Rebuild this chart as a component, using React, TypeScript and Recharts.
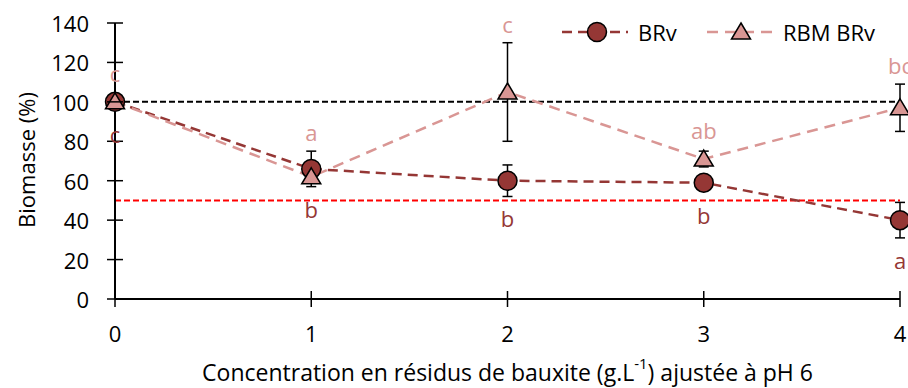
import React from 'react';
import { LineChart, Line, XAxis, YAxis, ReferenceLine, ErrorBar, LabelList, Legend, Label } from 'recharts';

const concentrations = [0, 1, 2, 3, 4];
const brvValues = [100, 66, 60, 59, 40];
const brvErrors = [0, 9, 8, 1, 9];
const rbmValues = [100, 62, 105, 71, 97];
const rbmErrors = [0, 3, 25, 4, 12];
const brvLetters = ['c', 'b', 'b', 'b', 'a'];
const rbmLetters = ['c', 'a', 'c', 'ab', 'bc'];
const yTicks = [0, 20, 40, 60, 80, 100, 120, 140];
const xTicks = [0, 1, 2, 3, 4];

const BRV_COLOR = '#953735';
const RBM_COLOR = '#D99694';
const FONT = '"Open Sans", sans-serif';

const W = 908;
const H = 388;
const MARGIN = { top: 23, right: 8, left: 0, bottom: 0 };
const Y_AXIS_W = 115;
const X_AXIS_H = 89;
const Y_MAX = 140;
const plotH = H - MARGIN.top - MARGIN.bottom - X_AXIS_H;
const plotW = W - MARGIN.left - MARGIN.right - Y_AXIS_W;
const pxPerUnit = plotH / Y_MAX;
const yPix = (v: number) => MARGIN.top + (Y_MAX - v) * pxPerUnit;

const data = concentrations.map((c, i) => ({
  conc: c,
  brv: brvValues[i],
  brvErr: brvErrors[i],
  rbm: rbmValues[i],
  rbmErr: rbmErrors[i],
}));

// letters sit just outside whatever is drawn at that concentration
const lowestEdge = (i: number) =>
  Math.max(
    yPix(brvValues[i] - brvErrors[i]),
    yPix(rbmValues[i] - rbmErrors[i]),
    yPix(brvValues[i]) + 10,
    yPix(rbmValues[i]) + 8
  );
const highestEdge = (i: number) =>
  Math.min(
    yPix(brvValues[i] + brvErrors[i]),
    yPix(rbmValues[i] + rbmErrors[i]),
    yPix(brvValues[i]) - 10,
    yPix(rbmValues[i]) - 10
  );

const renderBrvLetter = (props: any) => {
  const { x, index } = props;
  return (
    <text key={`bl-${index}`} x={x} y={lowestEdge(index) + 22} textAnchor="middle" dominantBaseline="central"
      fill={BRV_COLOR} fontSize={22} fontFamily={FONT}>
      {brvLetters[index]}
    </text>
  );
};

const renderRbmLetter = (props: any) => {
  const { x, index } = props;
  return (
    <text key={`rl-${index}`} x={x} y={highestEdge(index) - 19} textAnchor="middle" dominantBaseline="central"
      fill={RBM_COLOR} fontSize={22} fontFamily={FONT}>
      {rbmLetters[index]}
    </text>
  );
};

const trianglePoints = (cx: number, cy: number) =>
  `${cx},${cy - 9} ${cx + 9.5},${cy + 7} ${cx - 9.5},${cy + 7}`;

const renderCircle = (props: any) => (
  <circle key={`c-${props.index}`} cx={props.cx} cy={props.cy} r={9.5} fill={BRV_COLOR} stroke="#000" strokeWidth={1.5} />
);

const renderTriangle = (props: any) => (
  <polygon key={`t-${props.index}`} points={trianglePoints(props.cx, props.cy)} fill={RBM_COLOR} stroke="#000" strokeWidth={1.5} />
);

const YTick = (props: any) => {
  const { x, y, payload } = props;
  return (
    <g>
      <line x1={x - 8} x2={x + 8} y1={y} y2={y} stroke="#000" strokeWidth={1.5} />
      <text x={x - 26} y={y} textAnchor="end" dominantBaseline="central" fontSize={22} fontFamily={FONT} fill="#000">
        {payload.value}
      </text>
    </g>
  );
};

const XTick = (props: any) => {
  const { x, y, payload } = props;
  return (
    <g>
      <line x1={x} x2={x} y1={y - 8} y2={y + 8} stroke="#000" strokeWidth={1.5} />
      <text x={x} y={y + 34} textAnchor="middle" dominantBaseline="central" fontSize={22} fontFamily={FONT} fill="#000">
        {payload.value}
      </text>
    </g>
  );
};

const LEG_LEFT = 550;
const LEG_TOP = 12;

const renderLegend = () => {
  const cy = 20;
  const item1 = 562 - LEG_LEFT;
  const item2 = 707 - LEG_LEFT;
  return (
    <svg width={358} height={40} style={{ overflow: 'visible' }}>
      <line x1={item1} x2={item1 + 66} y1={cy} y2={cy} stroke={BRV_COLOR} strokeWidth={2.5} strokeDasharray="10 6" />
      <circle cx={item1 + 35} cy={cy} r={9.5} fill={BRV_COLOR} stroke="#000" strokeWidth={1.5} />
      <text x={item1 + 76} y={cy} dominantBaseline="central" fontSize={22} fontFamily={FONT} fill="#000">BRv</text>
      <line x1={item2} x2={item2 + 66} y1={cy} y2={cy} stroke={RBM_COLOR} strokeWidth={2.5} strokeDasharray="11 7" />
      <polygon points={trianglePoints(item2 + 34, cy)} fill={RBM_COLOR} stroke="#000" strokeWidth={1.5} />
      <text x={item2 + 76} y={cy} dominantBaseline="central" fontSize={22} fontFamily={FONT} fill="#000">RBM BRv</text>
    </svg>
  );
};

const renderYLabel = () => (
  <text x={26} y={160} transform="rotate(-90, 26, 160)"
    textAnchor="middle" dominantBaseline="central" fontSize={22} fontFamily={FONT} fill="#000">
    Biomasse (%)
  </text>
);

const renderXLabel = () => (
  <text x={MARGIN.left + Y_AXIS_W + plotW / 2} y={372} textAnchor="middle" dominantBaseline="central"
    fontSize={23} fontFamily={FONT} fill="#000">
    Concentration en résidus de bauxite (g.L
    <tspan fontSize={15} dy={-9}>-1</tspan>
    <tspan dy={9}>) ajustée à pH 6</tspan>
  </text>
);

export default function App() {
  return (
    <div style={{ position: 'absolute', left: 0, top: 0, width: W, height: H, background: '#fff', overflow: 'hidden' }}>
      <LineChart width={W} height={H} data={data} margin={MARGIN}>
        <XAxis
          dataKey="conc"
          type="number"
          domain={[0, 4]}
          ticks={xTicks}
          height={X_AXIS_H}
          axisLine={{ stroke: '#000', strokeWidth: 2 }}
          tickLine={false}
          tickSize={0}
          tickMargin={0}
          tick={<XTick />}
          interval={0}
        >
          <Label content={renderXLabel} />
        </XAxis>
        <YAxis
          type="number"
          domain={[0, Y_MAX]}
          ticks={yTicks}
          width={Y_AXIS_W}
          axisLine={{ stroke: '#000', strokeWidth: 2 }}
          tickLine={false}
          tickSize={0}
          tickMargin={0}
          tick={<YTick />}
          interval={0}
        >
          <Label content={renderYLabel} />
        </YAxis>
        <ReferenceLine y={100} stroke="#000" strokeWidth={2} strokeDasharray="6 3" />
        <ReferenceLine y={50} stroke="#FF0000" strokeWidth={2} strokeDasharray="6 3" />
        <Legend layout="horizontal" verticalAlign="middle" align="center" content={renderLegend}
          wrapperStyle={{ left: LEG_LEFT, top: LEG_TOP, width: 358, height: 40 }} />
        <Line
          dataKey="brv"
          name="BRv"
          stroke={BRV_COLOR}
          strokeWidth={2.5}
          strokeDasharray="10 6"
          dot={renderCircle}
          activeDot={false}
          isAnimationActive={false}
        >
          <ErrorBar dataKey="brvErr" direction="y" width={5} stroke="#000" strokeWidth={1.5} isAnimationActive={false} />
          <LabelList dataKey="brv" content={renderBrvLetter} />
        </Line>
        <Line
          dataKey="rbm"
          name="RBM BRv"
          stroke={RBM_COLOR}
          strokeWidth={2.5}
          strokeDasharray="11 7"
          dot={renderTriangle}
          activeDot={false}
          isAnimationActive={false}
        >
          <ErrorBar dataKey="rbmErr" direction="y" width={5} stroke="#000" strokeWidth={1.5} isAnimationActive={false} />
          <LabelList dataKey="rbm" content={renderRbmLetter} />
        </Line>
      </LineChart>
    </div>
  );
}
